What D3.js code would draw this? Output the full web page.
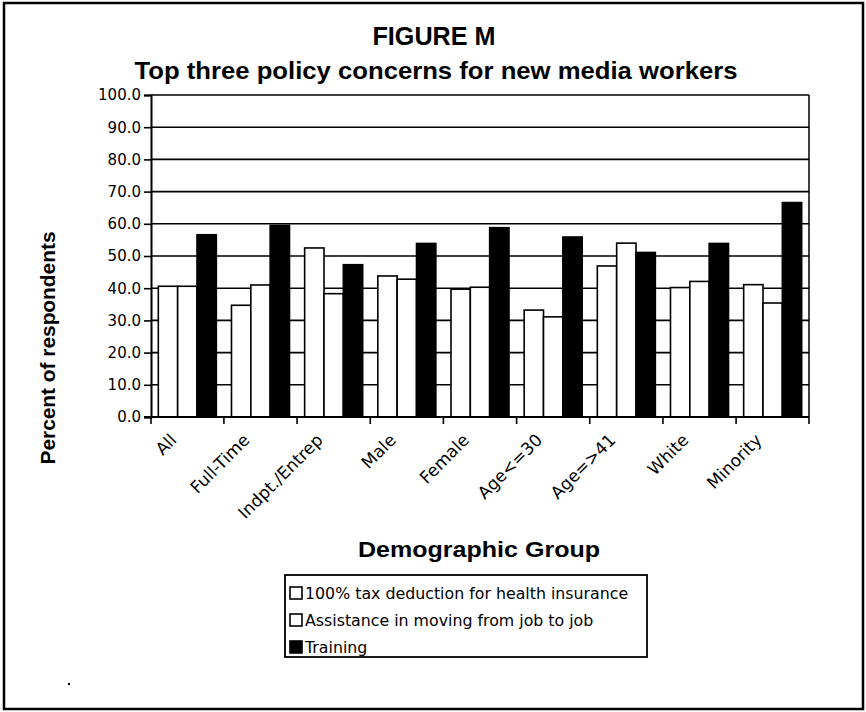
<!DOCTYPE html>
<html>
<head>
<meta charset="utf-8">
<script src="https://cdn.jsdelivr.net/npm/d3@7"></script>
<style>
  body { margin: 0; background: #fff; }
  svg { display: block; font-family: 'DejaVu Sans', 'Liberation Sans', Arial, sans-serif; }
  .bold { font-family: 'Liberation Sans', Arial, sans-serif; font-weight: bold; }
</style>
</head>
<body>
<svg id="chart" width="866" height="712"></svg>
<script>
// DATA
const groups = ['All', 'Full-Time', 'Indpt./Entrep', 'Male', 'Female', 'Age<=30', 'Age=>41', 'White', 'Minority'];
const seriesNames = ['100% tax deduction for health insurance', 'Assistance in moving from job to job', 'Training'];
const taxDeduction = [40.6, 34.7, 52.5, 43.8, 39.7, 33.2, 46.9, 40.2, 41.1];
const jobAssistance = [40.6, 41.0, 38.3, 42.8, 40.3, 31.1, 54.0, 42.1, 35.4];
const training = [56.6, 59.5, 47.3, 53.9, 58.8, 55.9, 51.1, 53.9, 66.6];
const yTicks = [0, 10, 20, 30, 40, 50, 60, 70, 80, 90, 100];

const seriesValues = [taxDeduction, jobAssistance, training];
const fills = ['#fff', '#fff', '#000'];

const svg = d3.select('#chart');
const width = +svg.attr('width');
const height = +svg.attr('height');

const padding = { top: 95, right: 57, bottom: 295, left: 151 };

// outer frame
svg.append('rect')
  .attr('x', 4).attr('y', 3)
  .attr('width', width - 7).attr('height', height - 6)
  .attr('fill', 'none').attr('stroke', '#000').attr('stroke-width', 2.5);

//SCALES
const x0 = d3.scaleBand()
  .domain(groups)
  .range([padding.left, width - padding.right])
  .paddingInner(0.207)
  .paddingOuter(0.1);

const x1 = d3.scaleBand()
  .domain(d3.range(seriesNames.length))
  .range([0, x0.bandwidth()]);

const yScale = d3.scaleLinear()
  .domain([0, 100])
  .range([height - padding.bottom, padding.top]);

const plot = svg.append('g');

// gridlines
plot.append('g')
  .selectAll('line')
  .data(yTicks.filter((d) => d > 0))
  .join('line')
  .attr('x1', padding.left).attr('x2', width - padding.right)
  .attr('y1', (d) => yScale(d)).attr('y2', (d) => yScale(d))
  .attr('stroke', '#000').attr('stroke-width', 1.6);

// right border of plot
plot.append('line')
  .attr('x1', width - padding.right).attr('x2', width - padding.right)
  .attr('y1', yScale(100)).attr('y2', yScale(0))
  .attr('stroke', '#000').attr('stroke-width', 1.5);

//BARS
const bars = [];
groups.forEach((g, i) => {
  seriesValues.forEach((vals, s) => bars.push({ group: g, series: s, value: vals[i] }));
});

plot.append('g')
  .selectAll('rect')
  .data(bars)
  .join('rect')
  .attr('x', (d) => x0(d.group) + x1(d.series))
  .attr('y', (d) => yScale(d.value))
  .attr('width', x1.bandwidth())
  .attr('height', (d) => yScale(0) - yScale(d.value))
  .attr('fill', (d) => fills[d.series])
  .attr('stroke', '#000')
  .attr('stroke-width', 1.6);

//AXES
const yAxis = d3.axisLeft(yScale)
  .tickValues(yTicks)
  .tickFormat(d3.format('.1f'))
  .tickSize(7)
  .tickPadding(3);

svg.append('g')
  .attr('transform', `translate(${padding.left},0)`)
  .call(yAxis)
  .call((g) => g.select('.domain').attr('stroke-width', 2))
  .call((g) => g.selectAll('.tick line').attr('stroke-width', 1.6))
  .call((g) => g.selectAll('text')
    .style('font-family', "'DejaVu Sans', sans-serif")
    .style('font-size', '15px').attr('fill', '#000'));

// x axis line and boundary ticks
const step = x0.step();
const boundaries = groups.map((g) => x0(g) - (step * x0.paddingInner()) / 2).slice(1);
boundaries.unshift(padding.left);
boundaries.push(width - padding.right);

const xAxisG = svg.append('g');
xAxisG.append('line')
  .attr('x1', padding.left - 7).attr('x2', width - padding.right)
  .attr('y1', yScale(0)).attr('y2', yScale(0))
  .attr('stroke', '#000').attr('stroke-width', 2);
xAxisG.selectAll('.xtick')
  .data(boundaries)
  .join('line')
  .classed('xtick', true)
  .attr('x1', (d) => d).attr('x2', (d) => d)
  .attr('y1', yScale(0)).attr('y2', yScale(0) + 7)
  .attr('stroke', '#000').attr('stroke-width', 1.6);

xAxisG.selectAll('.xlabel')
  .data(groups)
  .join('text')
  .classed('xlabel', true)
  .attr('transform', (d) => `translate(${x0(d) + x0.bandwidth() / 2 - 14},${yScale(0) + 20}) rotate(-45)`)
  .attr('text-anchor', 'end')
  .attr('dy', '0.35em')
  .style('font-size', '17px')
  .text((d) => d);

//TEXT
svg.append('text')
  .classed('bold', true)
  .attr('x', 434).attr('y', 45)
  .attr('text-anchor', 'middle')
  .style('font-size', '25px')
  .attr('textLength', 123).attr('lengthAdjust', 'spacingAndGlyphs')
  .text('FIGURE M');

svg.append('text')
  .classed('bold', true)
  .attr('x', 436).attr('y', 79)
  .attr('text-anchor', 'middle')
  .style('font-size', '24px')
  .attr('textLength', 603).attr('lengthAdjust', 'spacingAndGlyphs')
  .text('Top three policy concerns for new media workers');

svg.append('text')
  .classed('bold', true)
  .attr('transform', 'translate(55,348) rotate(-90)')
  .attr('text-anchor', 'middle')
  .style('font-size', '20px')
  .attr('textLength', 233).attr('lengthAdjust', 'spacingAndGlyphs')
  .text('Percent of respondents');

svg.append('text')
  .classed('bold', true)
  .attr('x', 479).attr('y', 557)
  .attr('text-anchor', 'middle')
  .style('font-size', '22px')
  .attr('textLength', 242).attr('lengthAdjust', 'spacingAndGlyphs')
  .text('Demographic Group');

//LEGEND
const legend = svg.append('g');
legend.append('rect')
  .attr('x', 285).attr('y', 575)
  .attr('width', 362).attr('height', 82)
  .attr('fill', '#fff').attr('stroke', '#000').attr('stroke-width', 1.8);

const item = legend.selectAll('.item')
  .data(seriesNames)
  .join('g')
  .classed('item', true)
  .attr('transform', (d, i) => `translate(290,${593 + i * 27})`);

item.append('rect')
  .attr('x', 0).attr('y', -6)
  .attr('width', 12).attr('height', 12)
  .attr('fill', (d, i) => fills[i])
  .attr('stroke', '#000').attr('stroke-width', 1.6);

item.append('text')
  .attr('x', 15).attr('dy', '0.35em')
  .style('font-size', '15.8px')
  .text((d) => d);

// stray speck seen in the scan
svg.append('circle').attr('cx', 69).attr('cy', 684).attr('r', 1.2).attr('fill', '#000');
</script>
</body>
</html>
